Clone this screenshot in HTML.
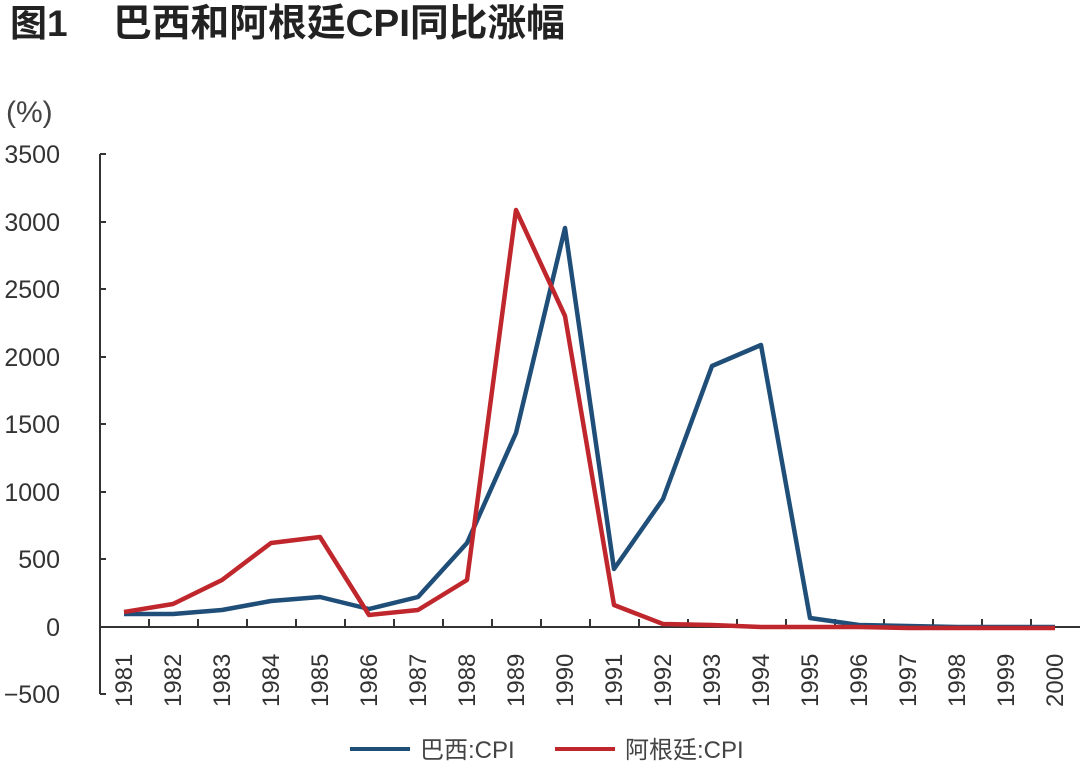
<!DOCTYPE html>
<html><head><meta charset="utf-8"><style>
body{margin:0;background:#fff;width:1080px;height:767px;overflow:hidden}
svg{display:block}
text{font-family:"Liberation Sans","Noto Sans CJK SC",sans-serif;fill:#333}
</style></head><body>
<svg width="1080" height="767" viewBox="0 0 1080 767">
<text x="10" y="36" font-size="37" font-weight="bold" style="fill:#222">图1</text>
<text x="113" y="36" font-size="38" font-weight="bold" style="fill:#222" textLength="452" lengthAdjust="spacingAndGlyphs">巴西和阿根廷CPI同比涨幅</text>
<text x="6" y="122" font-size="30" style="fill:#444">(%)</text>
<g font-size="25" text-anchor="end" style="fill:#444">
<text x="60" y="163">3500</text><text x="60" y="231">3000</text><text x="60" y="298">2500</text>
<text x="60" y="366">2000</text><text x="60" y="433">1500</text><text x="60" y="501">1000</text>
<text x="60" y="568">500</text><text x="60" y="636">0</text><text x="60" y="703">−500</text>
</g>
<g stroke="#333" stroke-width="2" fill="none">
<line x1="100" y1="154" x2="100" y2="694"/>
<line x1="100" y1="627" x2="1080" y2="627"/>
<path d="M100 154h6M100 222h6M100 289h6M100 357h6M100 424h6M100 492h6M100 559h6M100 627h6M100 694h6"/>
<path d="M149 627v-8M198 627v-8M247 627v-8M296 627v-8M345 627v-8M394 627v-8M443 627v-8M492 627v-8M541 627v-8M590 627v-8M639 627v-8M688 627v-8M737 627v-8M786 627v-8M835 627v-8M884 627v-8M933 627v-8M982 627v-8M1031 627v-8"/>
</g>
<g font-size="24" style="fill:#444">
<text transform="translate(132,707) rotate(-90)">1981</text>
<text transform="translate(181,707) rotate(-90)">1982</text>
<text transform="translate(230,707) rotate(-90)">1983</text>
<text transform="translate(279,707) rotate(-90)">1984</text>
<text transform="translate(328,707) rotate(-90)">1985</text>
<text transform="translate(377,707) rotate(-90)">1986</text>
<text transform="translate(426,707) rotate(-90)">1987</text>
<text transform="translate(475,707) rotate(-90)">1988</text>
<text transform="translate(524,707) rotate(-90)">1989</text>
<text transform="translate(573,707) rotate(-90)">1990</text>
<text transform="translate(622,707) rotate(-90)">1991</text>
<text transform="translate(671,707) rotate(-90)">1992</text>
<text transform="translate(720,707) rotate(-90)">1993</text>
<text transform="translate(769,707) rotate(-90)">1994</text>
<text transform="translate(818,707) rotate(-90)">1995</text>
<text transform="translate(867,707) rotate(-90)">1996</text>
<text transform="translate(916,707) rotate(-90)">1997</text>
<text transform="translate(965,707) rotate(-90)">1998</text>
<text transform="translate(1014,707) rotate(-90)">1999</text>
<text transform="translate(1063,707) rotate(-90)">2000</text>
</g>
<polyline fill="none" stroke="#1f4e79" stroke-width="4.5" stroke-linejoin="round" points="124,614 173,614 222,610 271,601 320,597 369,609 418,597 467,543 516,433 565,228 614,569 663,499 712,366 761,345 810,618 859,625 908,626 957,627 1006,627 1055,627"/>
<polyline fill="none" stroke="#c0272d" stroke-width="4.5" stroke-linejoin="round" points="124,612 173,604 222,580 271,543 320,537 369,615 418,610 467,580 516,210 565,316 614,605 663,624 712,625 761,627 810,627 859,627 908,628 957,628 1006,628 1055,628"/>
<line x1="350" y1="749" x2="410" y2="749" stroke="#1f4e79" stroke-width="4"/>
<text x="420" y="758" font-size="24" style="fill:#444">巴西:CPI</text>
<line x1="555" y1="749" x2="615" y2="749" stroke="#c0272d" stroke-width="4"/>
<text x="625" y="758" font-size="24" style="fill:#444">阿根廷:CPI</text>
</svg>
</body></html>
